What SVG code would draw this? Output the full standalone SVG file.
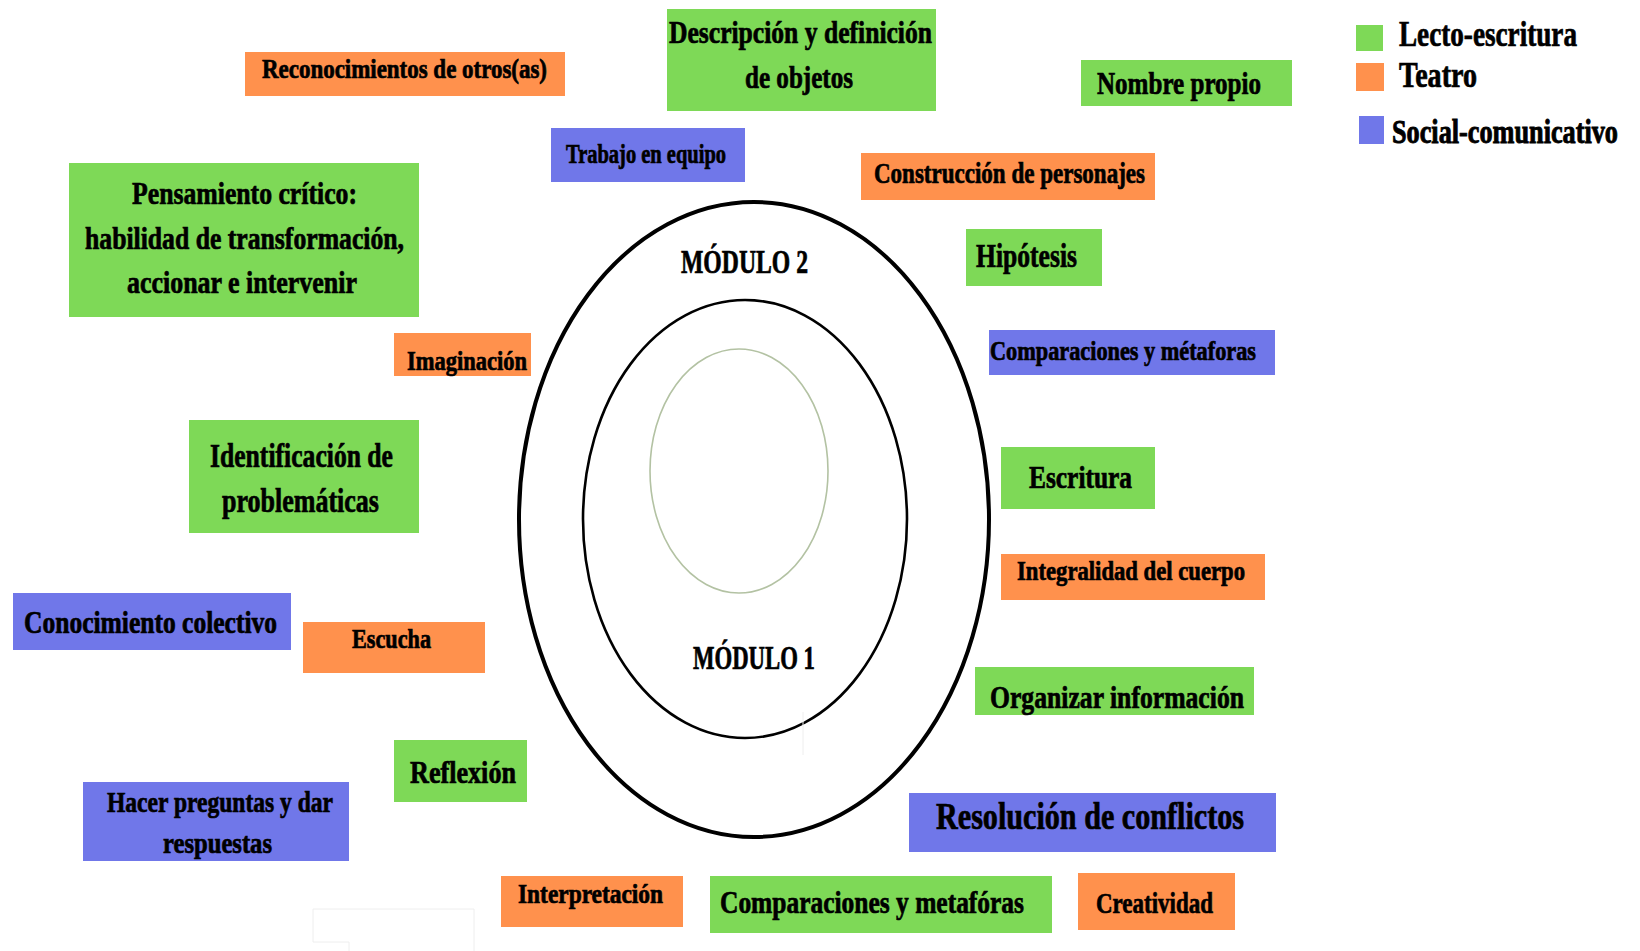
<svg xmlns="http://www.w3.org/2000/svg" width="1640" height="951" viewBox="0 0 1640 951">
<style>
.g{fill:#7ED957}
.o{fill:#FF914D}
.b{fill:#7077E9}
text{font-family:"Liberation Serif","DejaVu Serif",serif;font-weight:bold;fill:#000;stroke:#000;stroke-width:0.7px}
.s27{font-size:27px}
.s29{font-size:29px}
.s31{font-size:31px}
.s33{font-size:33px}
.s38{font-size:38px}
</style>
<rect width="1640" height="951" fill="#fff"/>
<g id="modules" fill="none">
<ellipse cx="754" cy="519.5" rx="235" ry="317.5" stroke="#000" stroke-width="4"/>
<ellipse cx="745" cy="519" rx="162" ry="219" stroke="#000" stroke-width="2.6"/>
<ellipse cx="739" cy="471" rx="89" ry="122" stroke="#B3C2A3" stroke-width="1.6"/>
<line x1="803" y1="712" x2="803" y2="755" stroke="#eee" stroke-width="1"/>
<path d="M313,942 V909 H474 V951 M313,942 H349 V951" stroke="#eee" stroke-width="1"/>
<text class="s33" x="681" y="273" textLength="127" lengthAdjust="spacingAndGlyphs">MÓDULO 2</text>
<text class="s33" x="693" y="669" textLength="122" lengthAdjust="spacingAndGlyphs">MÓDULO 1</text>
</g>
<g id="connectors"></g>
<g id="legend">
<rect class="g" x="1356" y="25" width="27" height="26"/>
<rect class="o" x="1356" y="63" width="28" height="28"/>
<rect class="b" x="1359" y="116" width="25" height="28"/>
<text font-size="35" x="1399" y="46" textLength="178" lengthAdjust="spacingAndGlyphs">Lecto-escritura</text>
<text font-size="35" x="1399" y="87" textLength="78" lengthAdjust="spacingAndGlyphs">Teatro</text>
<text font-size="26" transform="translate(1392,143) scale(1,1.3)" x="0" y="0" textLength="226" lengthAdjust="spacingAndGlyphs">Social-comunicativo</text>
</g>
<g id="n-reconocimientos"><rect class="o" x="245" y="52" width="320" height="44"/><text class="s27" x="262" y="78" textLength="285" lengthAdjust="spacingAndGlyphs">Reconocimientos de otros(as)</text></g>
<g id="n-descripcion"><rect class="g" x="667" y="9" width="269" height="102"/><text class="s31" x="669" y="43" textLength="263" lengthAdjust="spacingAndGlyphs">Descripción y definición</text><text class="s31" x="745" y="88" textLength="108" lengthAdjust="spacingAndGlyphs">de objetos</text></g>
<g id="n-nombre"><rect class="g" x="1081" y="60" width="211" height="46"/><text class="s31" x="1097" y="94" textLength="164" lengthAdjust="spacingAndGlyphs">Nombre propio</text></g>
<g id="n-trabajo"><rect class="b" x="551" y="128" width="194" height="54"/><text class="s27" x="566" y="163" textLength="160" lengthAdjust="spacingAndGlyphs">Trabajo en equipo</text></g>
<g id="n-construccion"><rect class="o" x="861" y="153" width="294" height="47"/><text class="s29" x="874" y="183" textLength="271" lengthAdjust="spacingAndGlyphs">Construcción de personajes</text></g>
<g id="n-pensamiento"><rect class="g" x="69" y="163" width="350" height="154"/><text class="s31" x="132" y="204" textLength="225" lengthAdjust="spacingAndGlyphs">Pensamiento crítico:</text><text class="s31" x="85" y="249" textLength="319" lengthAdjust="spacingAndGlyphs">habilidad de transformación,</text><text class="s31" x="127" y="293" textLength="230" lengthAdjust="spacingAndGlyphs">accionar e intervenir</text></g>
<g id="n-hipotesis"><rect class="g" x="966" y="229" width="136" height="57"/><text class="s33" x="976" y="267" textLength="101" lengthAdjust="spacingAndGlyphs">Hipótesis</text></g>
<g id="n-imaginacion"><rect class="o" x="394" y="333" width="137" height="43"/><text class="s27" x="407" y="370" textLength="120" lengthAdjust="spacingAndGlyphs">Imaginación</text></g>
<g id="n-comparaciones1"><rect class="b" x="989" y="330" width="286" height="45"/><text class="s27" x="990" y="360" textLength="266" lengthAdjust="spacingAndGlyphs">Comparaciones y métaforas</text></g>
<g id="n-identificacion"><rect class="g" x="189" y="420" width="230" height="113"/><text class="s33" x="210" y="467" textLength="183" lengthAdjust="spacingAndGlyphs">Identificación de</text><text class="s33" x="222" y="512" textLength="157" lengthAdjust="spacingAndGlyphs">problemáticas</text></g>
<g id="n-escritura"><rect class="g" x="1001" y="447" width="154" height="62"/><text class="s31" x="1029" y="488" textLength="103" lengthAdjust="spacingAndGlyphs">Escritura</text></g>
<g id="n-integralidad"><rect class="o" x="1001" y="554" width="264" height="46"/><text class="s27" x="1017" y="580" textLength="228" lengthAdjust="spacingAndGlyphs">Integralidad del cuerpo</text></g>
<g id="n-conocimiento"><rect class="b" x="13" y="593" width="278" height="57"/><text class="s31" x="24" y="633" textLength="253" lengthAdjust="spacingAndGlyphs">Conocimiento colectivo</text></g>
<g id="n-escucha"><rect class="o" x="303" y="622" width="182" height="51"/><text class="s27" x="352" y="648" textLength="79" lengthAdjust="spacingAndGlyphs">Escucha</text></g>
<g id="n-organizar"><rect class="g" x="975" y="667" width="279" height="48"/><text class="s31" x="990" y="708" textLength="254" lengthAdjust="spacingAndGlyphs">Organizar información</text></g>
<g id="n-reflexion"><rect class="g" x="394" y="740" width="133" height="62"/><text class="s31" x="410" y="783" textLength="106" lengthAdjust="spacingAndGlyphs">Reflexión</text></g>
<g id="n-preguntas"><rect class="b" x="83" y="782" width="266" height="79"/><text class="s29" x="107" y="812" textLength="226" lengthAdjust="spacingAndGlyphs">Hacer preguntas y dar</text><text class="s29" x="163" y="853" textLength="109" lengthAdjust="spacingAndGlyphs">respuestas</text></g>
<g id="n-resolucion"><rect class="b" x="909" y="793" width="367" height="59"/><text class="s38" x="936" y="829" textLength="308" lengthAdjust="spacingAndGlyphs">Resolución de conflictos</text></g>
<g id="n-interpretacion"><rect class="o" x="501" y="876" width="182" height="51"/><text class="s27" x="518" y="903" textLength="145" lengthAdjust="spacingAndGlyphs">Interpretación</text></g>
<g id="n-comparaciones2"><rect class="g" x="710" y="876" width="342" height="57"/><text class="s31" x="720" y="913" textLength="304" lengthAdjust="spacingAndGlyphs">Comparaciones y metafóras</text></g>
<g id="n-creatividad"><rect class="o" x="1078" y="873" width="157" height="57"/><text class="s29" x="1096" y="913" textLength="117" lengthAdjust="spacingAndGlyphs">Creatividad</text></g>
</svg>
